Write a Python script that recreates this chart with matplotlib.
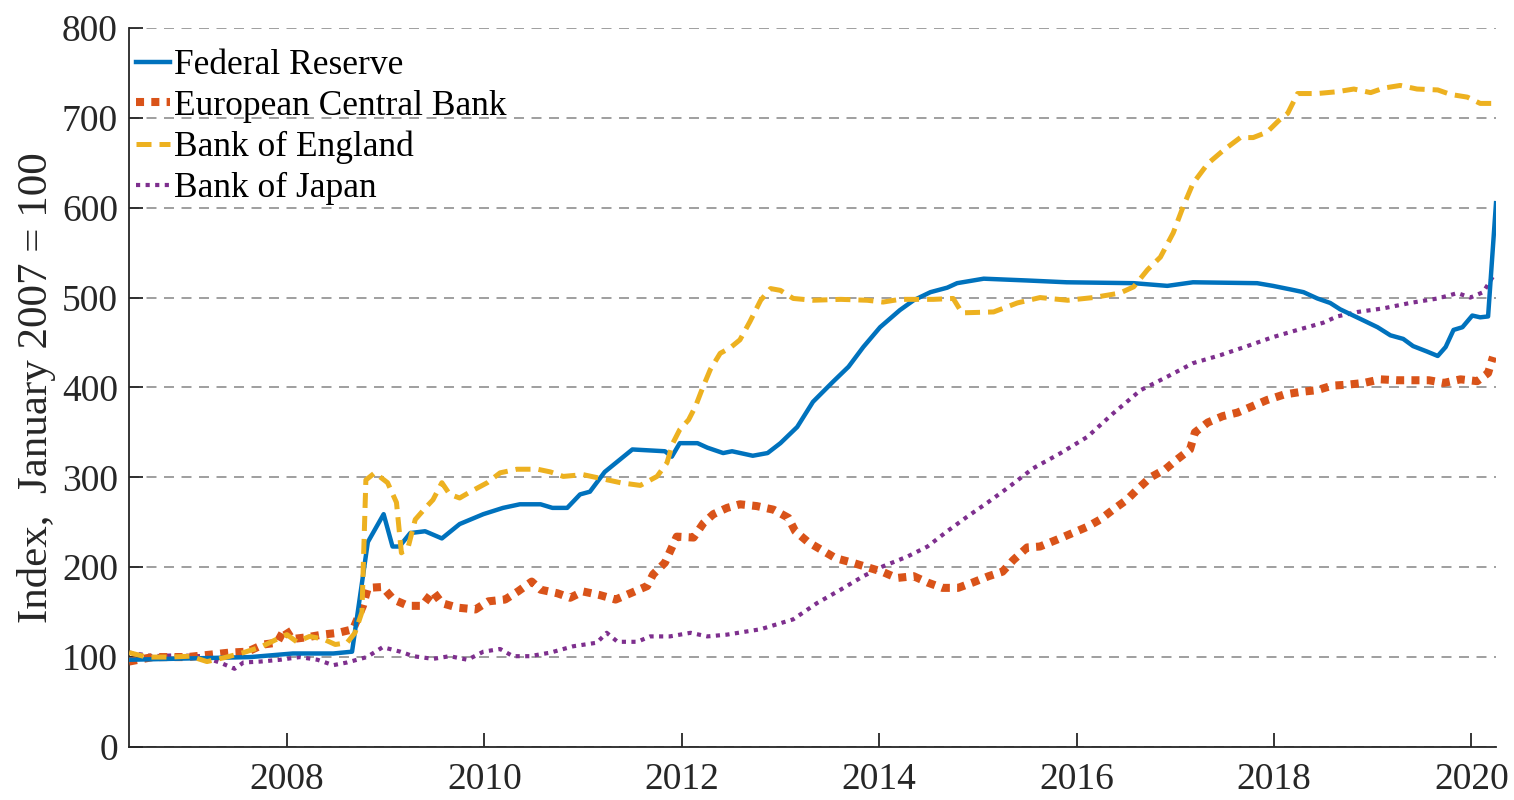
import matplotlib
matplotlib.use("Agg")
import matplotlib.pyplot as plt

# central bank balance sheets, index Jan 2007 = 100
fed_x = [2006.40, 2007.63, 2008.06, 2008.47, 2008.66, 2008.82, 2008.98, 2009.07, 2009.14,
         2009.25, 2009.40, 2009.57, 2009.75, 2009.99, 2010.19, 2010.36, 2010.57, 2010.69,
         2010.84, 2010.97, 2011.07, 2011.22, 2011.50, 2011.83, 2011.90, 2011.98, 2012.16,
         2012.26, 2012.42, 2012.51, 2012.72, 2012.87, 2013.00, 2013.17, 2013.33, 2013.53,
         2013.69, 2013.84, 2014.01, 2014.21, 2014.35, 2014.52, 2014.69, 2014.79, 2015.06,
         2015.50, 2015.90, 2016.58, 2016.92, 2017.18, 2017.83, 2017.99, 2018.17, 2018.30,
         2018.44, 2018.57, 2018.67, 2018.88, 2019.05, 2019.18, 2019.31, 2019.41, 2019.55,
         2019.66, 2019.74, 2019.82, 2019.91, 2020.01, 2020.09, 2020.17, 2020.25]
fed_y = [97, 100, 104, 104, 106, 228, 259, 223, 223,
         238, 240, 232, 248, 259, 266, 270, 270, 266,
         266, 281, 284, 306, 331, 329, 323, 338, 338,
         333, 327, 329, 324, 327, 338, 356, 384, 406,
         423, 445, 467, 486, 497, 506, 511, 516, 521,
         519, 517, 516, 513, 517, 516, 513, 509, 506,
         499, 494, 487, 476, 467, 458, 454, 446, 440,
         435, 445, 464, 467, 480, 478, 479, 605]

ecb_x = [2006.40, 2006.64, 2006.99, 2007.25, 2007.42, 2007.60, 2007.76, 2007.90, 2007.98,
         2008.05, 2008.20, 2008.36, 2008.52, 2008.67, 2008.77, 2008.82, 2008.97, 2009.08,
         2009.23, 2009.37, 2009.48, 2009.57, 2009.73, 2009.91, 2010.04, 2010.21, 2010.34,
         2010.48, 2010.57, 2010.74, 2010.87, 2011.00, 2011.17, 2011.33, 2011.48, 2011.65,
         2011.71, 2011.83, 2011.95, 2012.12, 2012.22, 2012.32, 2012.46, 2012.59, 2012.76,
         2012.93, 2013.08, 2013.15, 2013.28, 2013.42, 2013.56, 2013.73, 2013.88, 2014.03,
         2014.18, 2014.35, 2014.49, 2014.64, 2014.80, 2014.95, 2015.11, 2015.25, 2015.36,
         2015.50, 2015.63, 2015.81, 2015.96, 2016.11, 2016.24, 2016.37, 2016.51, 2016.63,
         2016.75, 2016.90, 2017.02, 2017.15, 2017.20, 2017.33, 2017.48, 2017.63, 2017.78,
         2017.93, 2018.10, 2018.27, 2018.44, 2018.59, 2018.74, 2018.91, 2019.08, 2019.25,
         2019.40, 2019.57, 2019.72, 2019.89, 2020.06, 2020.17, 2020.22]
ecb_y = [95, 100, 100, 103, 105, 106, 114, 116, 132,
         120, 122, 125, 127, 131, 157, 177, 178, 164,
         157, 157, 173, 160, 155, 153, 162, 164, 173,
         184, 175, 171, 166, 173, 169, 164, 171, 179,
         192, 205, 234, 233, 249, 259, 266, 270, 268,
         264, 255, 240, 228, 219, 210, 205, 200, 195,
         188, 190, 183, 177, 177, 183, 190, 195, 208,
         222, 223, 231, 238, 245, 253, 264, 275, 288,
         300, 309, 320, 331, 350, 361, 368, 372, 379,
         386, 392, 395, 397, 402, 403, 405, 409, 408,
         408, 408, 405, 409, 407, 416, 434]

boe_x = [2006.40, 2006.58, 2006.82, 2007.02, 2007.19, 2007.39, 2007.56, 2007.73, 2007.90,
         2008.00, 2008.10, 2008.23, 2008.37, 2008.49, 2008.61, 2008.69, 2008.76, 2008.80,
         2008.89, 2009.02, 2009.11, 2009.16, 2009.23, 2009.30, 2009.42, 2009.48, 2009.57,
         2009.65, 2009.75, 2009.86, 2010.03, 2010.16, 2010.33, 2010.54, 2010.67, 2010.80,
         2011.00, 2011.17, 2011.38, 2011.58, 2011.75, 2011.85, 2011.91, 2011.98, 2012.07,
         2012.14, 2012.21, 2012.29, 2012.39, 2012.49, 2012.59, 2012.69, 2012.80, 2012.90,
         2013.00, 2013.13, 2013.33, 2013.61, 2013.88, 2014.04, 2014.21, 2014.55, 2014.75,
         2014.84, 2015.16, 2015.40, 2015.63, 2015.91, 2016.17, 2016.44, 2016.58, 2016.72,
         2016.85, 2016.98, 2017.08, 2017.18, 2017.33, 2017.49, 2017.66, 2017.79, 2017.93,
         2018.05, 2018.14, 2018.24, 2018.44, 2018.64, 2018.81, 2018.98, 2019.11, 2019.28,
         2019.45, 2019.66, 2019.79, 2019.96, 2020.09, 2020.24]
boe_y = [105, 100, 100, 101, 95, 100, 105, 111, 120,
         125, 117, 123, 120, 114, 116, 127, 150, 297,
         305, 294, 272, 216, 223, 253, 268, 275, 294,
         281, 277, 284, 294, 305, 309, 309, 306, 301,
         303, 299, 294, 291, 301, 316, 338, 353, 364,
         379, 399, 420, 438, 444, 453, 473, 497, 510,
         508, 499, 497, 498, 497, 495, 498, 498, 499,
         483, 484, 494, 500, 497, 500, 505, 512, 531,
         545, 572, 601, 627, 649, 664, 678, 678, 684,
         697, 705, 727, 727, 729, 732, 728, 733, 736,
         732, 731, 726, 723, 716, 716]

boj_x = [2006.40, 2006.64, 2006.89, 2007.12, 2007.32, 2007.47, 2007.56, 2007.73, 2007.93,
         2008.13, 2008.31, 2008.47, 2008.61, 2008.81, 2008.97, 2009.15, 2009.28, 2009.48,
         2009.65, 2009.83, 2009.99, 2010.16, 2010.29, 2010.46, 2010.67, 2010.90, 2011.14,
         2011.24, 2011.35, 2011.55, 2011.68, 2011.88, 2012.09, 2012.26, 2012.46, 2012.80,
         2013.13, 2013.37, 2013.61, 2013.84, 2014.04, 2014.29, 2014.49, 2014.69, 2014.89,
         2015.10, 2015.30, 2015.56, 2015.84, 2016.11, 2016.37, 2016.65, 2016.92, 2017.18,
         2017.46, 2017.73, 2017.99, 2018.24, 2018.50, 2018.64, 2018.85, 2019.11, 2019.38,
         2019.66, 2019.86, 2019.99, 2020.12, 2020.24]
boj_y = [105, 101, 102, 101, 94, 87, 94, 95, 97,
         100, 97, 91, 94, 100, 111, 106, 101, 98,
         101, 97, 106, 109, 101, 101, 105, 112, 116,
         127, 117, 117, 123, 123, 127, 123, 125, 131,
         142, 160, 175, 190, 201, 212, 223, 240, 256,
         272, 288, 310, 327, 345, 371, 397, 412, 427,
         436, 446, 456, 464, 472, 479, 484, 488, 494,
         499, 505, 500, 506, 527]

year_ticks = [2008, 2010, 2012, 2014, 2016, 2018, 2020]
index_ticks = [0, 100, 200, 300, 400, 500, 600, 700, 800]

COLORS = {
    "fed": "#0072BD",
    "ecb": "#D95319",
    "boe": "#EDB120",
    "boj": "#7E2F8E",
    "axis": "#262626",
    "grid": "#8f8f8f",
}

plt.rcParams["font.family"] = ["Liberation Serif", "DejaVu Serif"]

fig = plt.figure(figsize=(15.14, 8), dpi=100)
ax = fig.add_axes([0.0852, 0.0663, 0.9029, 0.8988])

ax.plot(fed_x, fed_y, color=COLORS["fed"], linewidth=3.2, label="Federal Reserve", zorder=4)
ax.plot(ecb_x, ecb_y, color=COLORS["ecb"], linewidth=5.8, linestyle=(0, (1, 0.9)),
        dash_capstyle="butt", label="European Central Bank", zorder=3)
ax.plot(boe_x, boe_y, color=COLORS["boe"], linewidth=3.6, linestyle=(0, (3, 1.6)),
        dash_capstyle="butt", label="Bank of England", zorder=5)
ax.plot(boj_x, boj_y, color=COLORS["boj"], linewidth=3.0, linestyle=(0, (1, 1.3)),
        dash_capstyle="butt", label="Bank of Japan", zorder=2)

ax.set_xlim(2006.40, 2020.25)
ax.set_ylim(0, 800)
ax.set_xticks(year_ticks)
ax.set_xticklabels([str(y) for y in year_ticks])
ax.set_yticks(index_ticks)
ax.yaxis.grid(True, color=COLORS["grid"], linestyle=(0, (6, 4.5)), linewidth=1.2, zorder=0)
ax.set_axisbelow(True)

ax.spines[["top", "right"]].set_visible(False)
for side in ("left", "bottom"):
    ax.spines[side].set_color(COLORS["axis"])
    ax.spines[side].set_linewidth(1.3)
ax.tick_params(direction="in", length=10, width=1.3, colors=COLORS["axis"],
               labelsize=27, pad=8)
ax.tick_params(axis="x", pad=11)

ax.set_ylabel("Index,  January 2007 = 100", fontsize=31, color=COLORS["axis"], labelpad=4)

ax.legend(loc="upper left", bbox_to_anchor=(-0.004, 0.988), frameon=False, fontsize=25.5,
          handlelength=0.95, handletextpad=0.12, labelspacing=0.22, borderaxespad=0.0,
          borderpad=0.35)

fig.savefig("out.png", dpi=100, facecolor="white")
